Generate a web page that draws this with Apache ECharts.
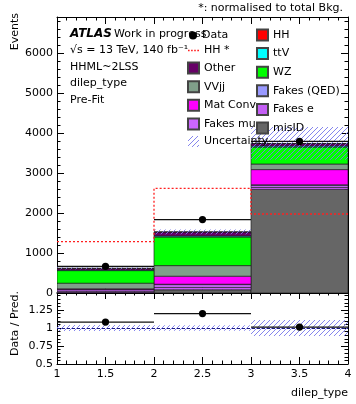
<!DOCTYPE html>
<html><head><meta charset="utf-8">
<script src="https://cdn.jsdelivr.net/npm/echarts@6/dist/echarts.min.js"></script>
<style>html,body{margin:0;padding:0;background:#fff}#c{width:356px;height:404px}</style>
</head><body><div id="c"></div>
<script>
// ---- data ----
const binEdges = [1, 2, 3, 4];
const misID    = [15, 80, 2590];
const fakesE   = [30, 60, 50];
const fakesMu  = [40, 70, 55];
const fakesQED = [5, 10, 10];
const matConv  = [15, 200, 380];
const vvjj     = [140, 265, 140];
const wz       = [315, 715, 425];
const ttv      = [15, 25, 25];
const other    = [40, 100, 60];
const hh       = [2, 3, 5];
const dataVals = [668, 1835, 3790];
const hhNorm   = [1283, 2617, 1975];
const bkgUnc   = [25, 60, 410];
const mainYTicks = {min: 0, max: 6900, interval: 1000};
const ratioYTicks = {min: 0.5, max: 1.5, interval: 0.25};
const xTicks = {min: 1, max: 4, interval: 0.5};

const FONT = 'DejaVu Sans';

function hatch(color) {
  const c = document.createElement('canvas'); c.width = 5; c.height = 5;
  const g = c.getContext('2d'); g.strokeStyle = color; g.lineWidth = 1;
  g.beginPath();
  g.moveTo(0, 5); g.lineTo(5, 0);
  g.moveTo(-1, 1); g.lineTo(1, -1);
  g.moveTo(4, 6); g.lineTo(6, 4);
  g.stroke();
  return c;
}
const hatchFill = {image: hatch('rgba(120,120,235,0.9)'), repeat: 'repeat'};

const comps = [
  {name: 'misID', vals: misID, color: '#666666'},
  {name: 'Fakes e', vals: fakesE, color: '#c45ef5'},
  {name: 'Fakes mu', vals: fakesMu, color: '#cc66ff'},
  {name: 'Fakes (QED)', vals: fakesQED, color: '#9999ff'},
  {name: 'Mat Conv', vals: matConv, color: '#ff00ff'},
  {name: 'VVjj', vals: vvjj, color: '#809f8a'},
  {name: 'WZ', vals: wz, color: '#00ff00'},
  {name: 'ttV', vals: ttv, color: '#00ffff'},
  {name: 'Other', vals: other, color: '#660066'},
  {name: 'HH', vals: hh, color: '#ff0000'}
];

function makeRect(fill, stroke, lw) {
  return function (params, api) {
    const a = api.coord([api.value(0), api.value(3)]);
    const b = api.coord([api.value(1), api.value(2)]);
    return {type: 'rect', shape: {x: a[0], y: a[1], width: b[0] - a[0], height: b[1] - a[1]},
      style: {fill: fill, stroke: stroke, lineWidth: lw}};
  };
}
function dataItem(params, api) {
  const a = api.coord([api.value(0), api.value(2)]);
  const b = api.coord([api.value(1), api.value(2)]);
  const m = api.coord([(api.value(0) + api.value(1)) / 2, api.value(2)]);
  return {type: 'group', children: [
    {type: 'line', shape: {x1: a[0], y1: a[1], x2: b[0], y2: b[1]}, style: {stroke: '#111', lineWidth: 1.3}},
    {type: 'circle', shape: {cx: m[0], cy: m[1], r: 3.6}, style: {fill: '#000'}}
  ]};
}

const cum = [0, 0, 0];
const series = [];
comps.forEach(c => {
  const data = c.vals.map((v, i) => { const lo = cum[i]; cum[i] += v; return [binEdges[i], binEdges[i + 1], lo, cum[i]]; });
  series.push({type: 'custom', name: c.name, xAxisIndex: 0, yAxisIndex: 0, clip: true, z: 2,
    renderItem: makeRect(c.color, 'rgba(30,30,30,0.85)', 0.8), data: data, encode: {x: [0, 1], y: [2, 3]},
    itemStyle: {color: c.color, borderColor: '#444', borderWidth: 1}});
});
const total = cum.slice();

series.push({type: 'custom', name: 'Uncertainty', xAxisIndex: 0, yAxisIndex: 0, clip: true, z: 3,
  renderItem: makeRect(hatchFill, null, 0),
  data: total.map((t, i) => [binEdges[i], binEdges[i + 1], t - bkgUnc[i], t + bkgUnc[i]]),
  encode: {x: [0, 1], y: [2, 3]}, itemStyle: {color: hatchFill}});

series.push({type: 'line', name: 'HH *', xAxisIndex: 0, yAxisIndex: 0, step: 'end', symbol: 'none', z: 4,
  data: binEdges.map((e, i) => [e, hhNorm[Math.min(i, hhNorm.length - 1)]]),
  lineStyle: {color: '#ff2020', width: 1.3, type: [2, 2]}, itemStyle: {color: '#ff2020'}});

series.push({type: 'custom', name: 'Data', xAxisIndex: 0, yAxisIndex: 0, z: 5, renderItem: dataItem,
  data: dataVals.map((d, i) => [binEdges[i], binEdges[i + 1], d]), encode: {x: [0, 1], y: 2},
  itemStyle: {color: '#000'}});

// ratio panel
series.push({type: 'custom', name: 'ratioUnc', xAxisIndex: 2, yAxisIndex: 2, clip: true, z: 3,
  renderItem: makeRect(hatchFill, null, 0),
  data: total.map((t, i) => [binEdges[i], binEdges[i + 1], 1 - bkgUnc[i] / t, 1 + bkgUnc[i] / t]),
  encode: {x: [0, 1], y: [2, 3]}, itemStyle: {color: hatchFill},
  markLine: {silent: true, symbol: 'none', label: {show: false},
    lineStyle: {color: '#1a1a80', type: [3, 2], width: 1}, data: [{yAxis: 1}]}});
series.push({type: 'custom', name: 'ratio', xAxisIndex: 2, yAxisIndex: 2, z: 5, renderItem: dataItem,
  data: dataVals.map((d, i) => [binEdges[i], binEdges[i + 1], d / total[i]]), encode: {x: [0, 1], y: 2},
  itemStyle: {color: '#000'}});

function axis(extra) {
  return Object.assign({
    type: 'value',
    axisLine: {show: true, onZero: false, lineStyle: {color: '#000', width: 1}},
    axisTick: {show: true, inside: true, length: 7, lineStyle: {color: '#000', width: 1}},
    minorTick: {show: true, splitNumber: 5, length: 3.5, lineStyle: {color: '#000', width: 1}},
    splitLine: {show: false},
    axisLabel: {show: false, color: '#000', fontSize: 11, fontFamily: FONT, margin: 4}
  }, extra);
}
const plain = v => String(v);

const dashedIcon = 'path://M0 0 L1.6 0 L1.6 1.4 L0 1.4 Z M3.1 0 L4.7 0 L4.7 1.4 L3.1 1.4 Z M6.2 0 L7.8 0 L7.8 1.4 L6.2 1.4 Z M9.3 0 L11 0 L11 1.4 L9.3 1.4 Z';

const option = {
  animation: false,
  backgroundColor: '#fff',
  textStyle: {fontFamily: FONT},
  grid: [
    {left: 57, top: 17, width: 291, height: 276},
    {left: 57, top: 292, width: 291, height: 72}
  ],
  xAxis: [
    axis({gridIndex: 0, position: 'bottom', min: xTicks.min, max: xTicks.max, interval: xTicks.interval}),
    axis({gridIndex: 0, position: 'top', min: xTicks.min, max: xTicks.max, interval: xTicks.interval}),
    axis({gridIndex: 1, position: 'bottom', min: xTicks.min, max: xTicks.max, interval: xTicks.interval,
      axisLabel: {show: true, color: '#000', fontSize: 11, fontFamily: FONT, margin: 5, formatter: plain}}),
    axis({gridIndex: 1, position: 'top', min: xTicks.min, max: xTicks.max, interval: xTicks.interval})
  ],
  yAxis: [
    axis({gridIndex: 0, position: 'left', min: mainYTicks.min, max: mainYTicks.max, interval: mainYTicks.interval,
      axisLabel: {show: true, showMaxLabel: false, color: '#000', fontSize: 11, fontFamily: FONT, margin: 4, formatter: plain}}),
    axis({gridIndex: 0, position: 'right', min: mainYTicks.min, max: mainYTicks.max, interval: mainYTicks.interval}),
    axis({gridIndex: 1, position: 'left', min: ratioYTicks.min, max: ratioYTicks.max, interval: ratioYTicks.interval,
      axisLabel: {show: true, showMaxLabel: false, color: '#000', fontSize: 11, fontFamily: FONT, margin: 4, formatter: plain}}),
    axis({gridIndex: 1, position: 'right', min: ratioYTicks.min, max: ratioYTicks.max, interval: ratioYTicks.interval})
  ],
  legend: [
    {data: [{name: 'Data', icon: 'circle'}], left: 189, top: 30, orient: 'vertical', itemWidth: 8, itemHeight: 8,
      padding: 0, selectedMode: false, z: 6,
      textStyle: {color: '#000', fontSize: 11, fontFamily: FONT, lineHeight: 11}},
    {data: [{name: 'HH *', icon: dashedIcon}, {name: 'Other', icon: 'rect'}, {name: 'VVjj', icon: 'rect'}, {name: 'Mat Conv', icon: 'rect'},
            {name: 'Fakes mu', icon: 'rect'}, {name: 'Uncertainty', icon: 'rect'}],
      left: 187, top: 45, orient: 'vertical', itemWidth: 11, itemHeight: 11, itemGap: 5.6, padding: 0,
      selectedMode: false, z: 6,
      textStyle: {color: '#000', fontSize: 11, fontFamily: FONT, lineHeight: 11}},
    {data: [{name: 'HH', icon: 'rect'}, {name: 'ttV', icon: 'rect'}, {name: 'WZ', icon: 'rect'},
            {name: 'Fakes (QED)', icon: 'rect'}, {name: 'Fakes e', icon: 'rect'}, {name: 'misID', icon: 'rect'}],
      left: 256, top: 28.5, orient: 'vertical', itemWidth: 11, itemHeight: 11, itemGap: 5.6, padding: 0,
      selectedMode: false, z: 7,
      textStyle: {color: '#000', fontSize: 11, fontFamily: FONT, lineHeight: 11}}
  ],
  graphic: [
    {type: 'text', x: 343, y: 8, z: 10, style: {text: '*: normalised to total Bkg.', align: 'right', verticalAlign: 'middle', fill: '#000', font: '11px "DejaVu Sans"'}},
    {type: 'text', x: 70, y: 34, z: 10, style: {text: 'ATLAS', align: 'left', verticalAlign: 'middle', fill: '#000', font: 'italic bold 12px "DejaVu Sans"'}},
    {type: 'text', x: 114, y: 34, z: 5, style: {text: 'Work in progress', align: 'left', verticalAlign: 'middle', fill: '#000', font: '11px "DejaVu Sans"'}},
    {type: 'text', x: 70, y: 50.5, z: 5, style: {text: '\u221As = 13 TeV, 140 fb\u207B\u00B9', align: 'left', verticalAlign: 'middle', fill: '#000', font: '11px "DejaVu Sans"'}},
    {type: 'text', x: 70, y: 67, z: 10, style: {text: 'HHML~2LSS', align: 'left', verticalAlign: 'middle', fill: '#000', font: '11px "DejaVu Sans"'}},
    {type: 'text', x: 70, y: 83.5, z: 10, style: {text: 'dilep_type', align: 'left', verticalAlign: 'middle', fill: '#000', font: '11px "DejaVu Sans"'}},
    {type: 'text', x: 70, y: 100, z: 10, style: {text: 'Pre-Fit', align: 'left', verticalAlign: 'middle', fill: '#000', font: '11px "DejaVu Sans"'}},
    {type: 'text', x: 15, y: 13, rotation: Math.PI / 2, z: 10, style: {text: 'Events', align: 'right', verticalAlign: 'middle', fill: '#000', font: '11px "DejaVu Sans"'}},
    {type: 'text', x: 15, y: 356, rotation: Math.PI / 2, z: 10, style: {text: 'Data / Pred.', align: 'left', verticalAlign: 'middle', fill: '#000', font: '11px "DejaVu Sans"'}},
    {type: 'rect', shape: {x: 0, y: 262, width: 30, height: 30}, z: 11, style: {fill: '#fff'}},
    {type: 'text', x: 348, y: 393, z: 10, style: {text: 'dilep_type', align: 'right', verticalAlign: 'middle', fill: '#000', font: '11px "DejaVu Sans"'}}
  ],
  series: series
};
const chart = echarts.init(document.getElementById('c'), null, {renderer: 'canvas'});
chart.setOption(option);
</script>
</body></html>
